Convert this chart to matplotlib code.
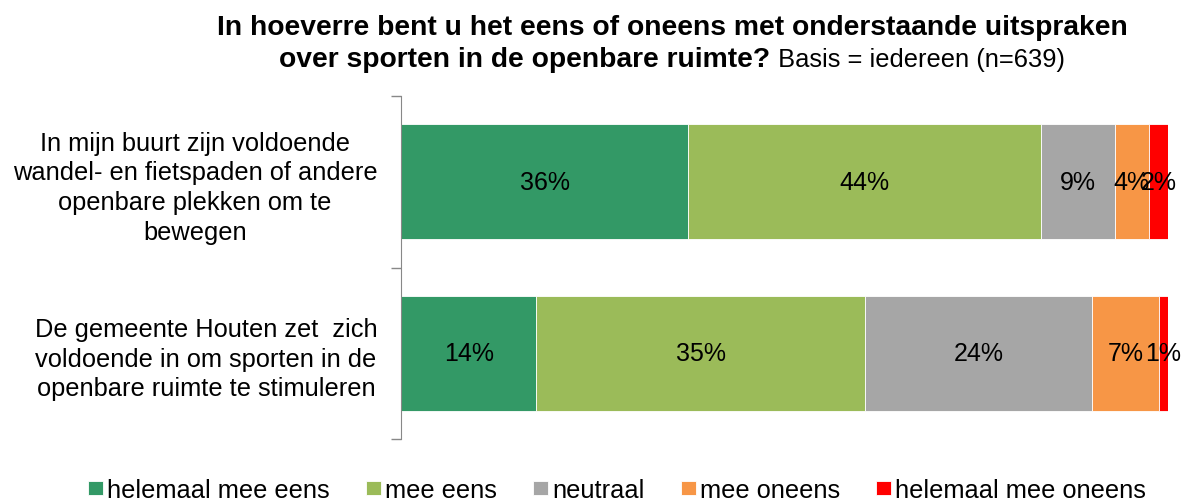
import matplotlib
matplotlib.use("Agg")
import matplotlib.pyplot as plt
import numpy as np

plt.rcParams['font.family'] = ['Liberation Sans', 'DejaVu Sans']

# data (percentages, shown 100% stacked)
statements = [
    "In mijn buurt zijn voldoende\nwandel- en fietspaden of andere\nopenbare plekken om te\nbewegen",
    "De gemeente Houten zet  zich\nvoldoende in om sporten in de\nopenbare ruimte te stimuleren",
]
answers = ["helemaal mee eens", "mee eens", "neutraal", "mee oneens", "helemaal mee oneens"]
helemaal_eens = [36.0, 14.3]
eens = [44.3, 34.7]
neutraal = [9.2, 24.0]
oneens = [4.3, 7.0]
helemaal_oneens = [2.4, 1.0]
colors = ["#339966", "#9BBB59", "#A6A6A6", "#F79646", "#FF0000"]

series = np.array([helemaal_eens, eens, neutraal, oneens, helemaal_oneens])
totals = series.sum(axis=0)
shares = series / totals * 100

fig = plt.figure(figsize=(11.95, 5.02), dpi=100)
ax = fig.add_axes([401 / 1195, 1 - 440 / 502, 767 / 1195, 343 / 502])

y = np.arange(len(statements))
left = np.zeros(len(statements))
for i, name in enumerate(answers):
    bars = ax.barh(y, shares[i], left=left, height=0.67, color=colors[i],
                   edgecolor="white", linewidth=0.6, label=name)
    for j, b in enumerate(bars):
        ax.text(left[j] + shares[i][j] / 2, y[j], f"{series[i][j]:.0f}%",
                ha="center", va="center", fontsize=18, color="black")
    left += shares[i]

ax.set_xlim(0, 100)
ax.set_ylim(1.5, -0.5)
ax.set_yticks(y)
ax.set_yticklabels(statements, fontsize=18.3, multialignment="center", linespacing=1.3)
ax.set_yticks([-0.5, 0.5, 1.5], minor=True)
ax.tick_params(axis="y", which="major", length=0, pad=17)
ax.tick_params(axis="y", which="minor", length=7, color="#888888", width=1)
ax.xaxis.set_visible(False)
for s in ["top", "right", "bottom"]:
    ax.spines[s].set_visible(False)
ax.spines["left"].set_color("#888888")

# title, second line partly bold
cx = 672 / 1195
fig.text(cx, 1 - 28 / 502, "In hoeverre bent u het eens of oneens met onderstaande uitspraken",
         ha="center", va="center", fontsize=20.3, fontweight="bold")
t1 = fig.text(0, 1 - 60 / 502, "over sporten in de openbare ruimte?", ha="left", va="center",
              fontsize=20.3, fontweight="bold")
t2 = fig.text(0, 1 - 60 / 502, " Basis = iedereen (n=639)", ha="left", va="center", fontsize=18.4)
r = fig.canvas.get_renderer()
w1 = t1.get_window_extent(r).width / fig.bbox.width
w2 = t2.get_window_extent(r).width / fig.bbox.width
x0 = cx - (w1 + w2) / 2
t1.set_x(x0)
t2.set_x(x0 + w1)

fig.legend(loc="center", bbox_to_anchor=(617 / 1195, 1 - 491 / 502), ncol=5, frameon=False,
           fontsize=18.3, handlelength=0.59, handleheight=0.51, handletextpad=0.16,
           columnspacing=1.42, borderpad=0)

fig.savefig("out.png", dpi=100)
